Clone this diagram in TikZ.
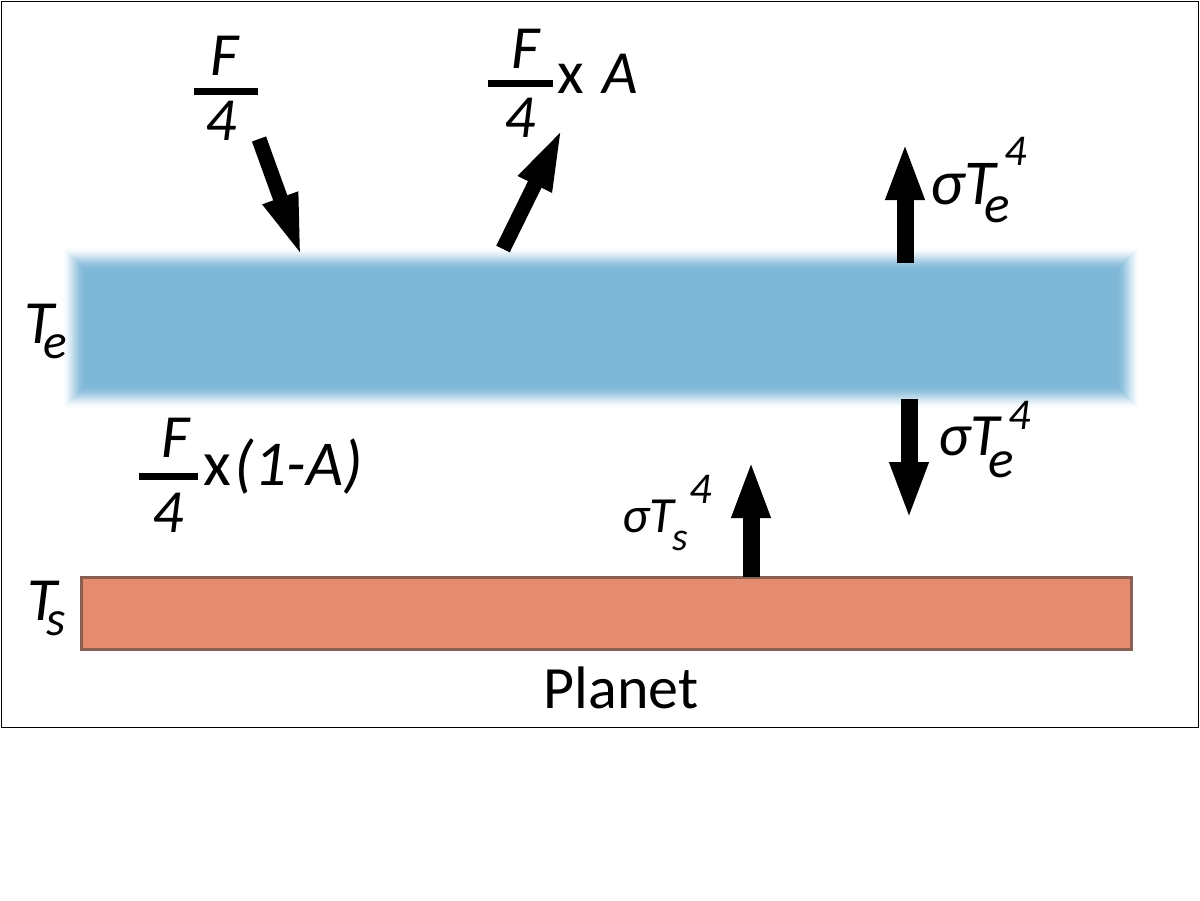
\documentclass[tikz,border=0pt]{standalone}
\usepackage{fontspec}
\setmainfont{Carlito}
\usetikzlibrary{arrows.meta}
\definecolor{bandblue}{RGB}{127,184,215}
\definecolor{planetfill}{RGB}{229,139,112}
\definecolor{planetedge}{RGB}{137,96,84}
\newcommand{\fs}[1]{\fontsize{#1}{#1}\selectfont}

\begin{document}
\begin{tikzpicture}[x=0.75pt,y=-0.75pt,
	lbl/.style={anchor=base west,inner sep=0pt,font=\fs{46}\itshape},
	bar/.style={line width=5.25pt},
	fatarrow/.style={line width=12.75pt,-{Triangle[length=43.5pt,width=26.25pt]}},
	slantarrow/.style={line width=11.25pt,-{Triangle[length=48pt,width=24.75pt]}}]

	\useasboundingbox (0,0) rectangle (1200,900);
	\draw[line width=0.75pt] (1,1) rectangle (1198,727);

	% atmosphere band, soft edges (smooth ramp of 24 layers)
	\foreach \k [evaluate=\k as \op using
		{(3*(\k/24)^2-2*(\k/24)^3-3*((\k-1)/24)^2+2*((\k-1)/24)^3)/(1-3*((\k-1)/24)^2+2*((\k-1)/24)^3)}]
		in {1,...,24}
		\fill[bandblue,opacity=\op] (61+\k,246+\k) rectangle (1141-\k,410-\k);

	% planet surface
	\draw[planetedge,fill=planetfill,line width=2.25pt] (81,577) rectangle (1131,649);

	\path
	(259,139) coordinate (S1)
	(302,258) coordinate (S2)
	(503,249) coordinate (R1)
	(563,127) coordinate (R2)
	(905,263) coordinate (U1)
	(905,142) coordinate (U2)
	(909,399) coordinate (D1)
	(909,520) coordinate (D2)
	(751,577) coordinate (G1)
	(751,460) coordinate (G2);

	\draw[slantarrow] (S1)--(S2);
	\draw[slantarrow] (R1)--(R2);
	\draw[fatarrow] (U1)--(U2);
	\draw[fatarrow] (D1)--(D2);
	\draw[fatarrow] (G1)--(G2);

	% temperatures
	\node[lbl] (Te) at (24,343) {T\kern-8pt\raisebox{-11.25pt}{\fs{37}e}};
	\node[lbl] (Ts) at (27,620) {T\kern-8pt\raisebox{-11.25pt}{\fs{37}s}};

	% incoming and reflected flux
	\node[lbl] (F1) at (210,75) {F};
	\draw[bar] (194,91) -- (258,91);
	\node[lbl] (Q1) at (205,140) {4};

	\node[lbl] (F2) at (511,68) {F};
	\draw[bar] (488,83) -- (553,83);
	\node[lbl] (Q2) at (504,137) {4};
	\node[lbl] (A2) at (557,93) {\upshape x\kern14pt\itshape A};

	\node[lbl] (F3) at (161,457) {F};
	\draw[bar] (139,476) -- (198,476);
	\node[lbl] (Q3) at (152,532) {4};
	\node[lbl,font=\fs{48}\itshape] (A3) at (203,485) {\upshape x\kern3pt\itshape (1-A)};

	% emitted flux
	\node[lbl,font=\fs{48}\itshape] (Eup) at (930,204)
		{σT\kern-8pt\raisebox{-13.5pt}{\fs{40}e}\kern-4pt\raisebox{29pt}{\fs{33}4}};
	\node[lbl,font=\fs{45}\itshape] (Edown) at (938,455)
		{σT\kern-8pt\raisebox{-17pt}{\fs{40}e}\kern-4pt\raisebox{19pt}{\fs{33}4}};
	\node[lbl,font=\fs{38}\itshape] (Es) at (622,532)
		{σT\kern-1pt\raisebox{-13.5pt}{\fs{30}s}\kern1pt\raisebox{21.75pt}{\fs{33}4}};

	\node[anchor=base,inner sep=0pt,font=\fs{45}] (planet) at (621,708) {Planet};
\end{tikzpicture}
\end{document}
